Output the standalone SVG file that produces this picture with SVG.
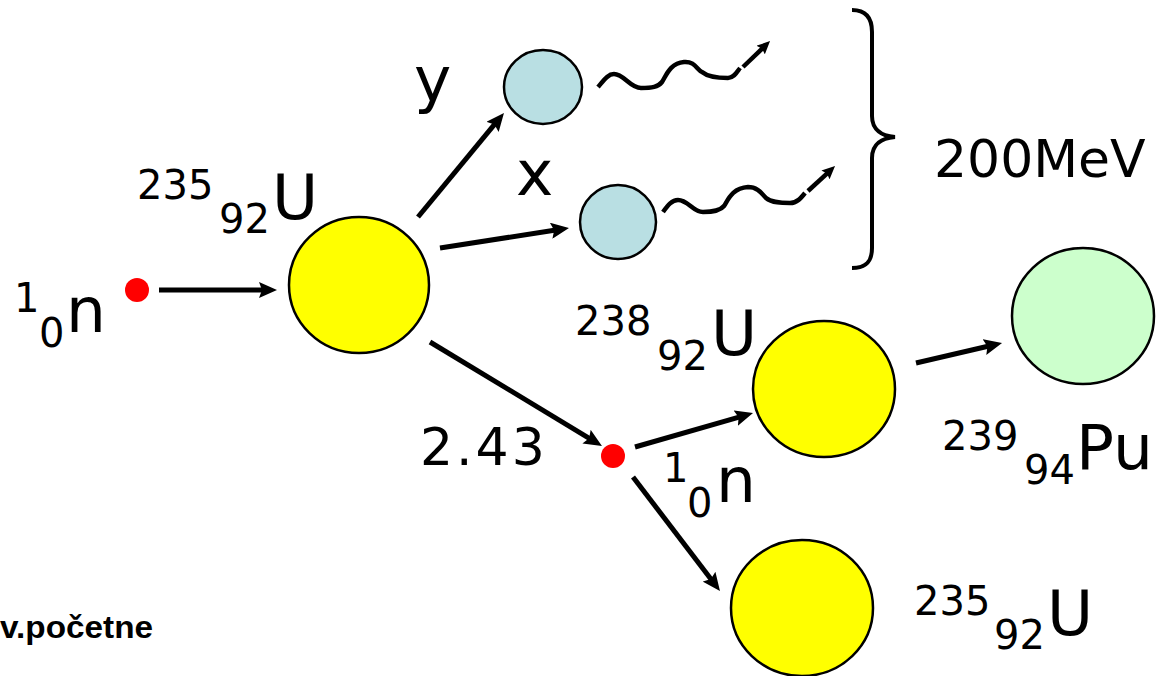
<svg xmlns="http://www.w3.org/2000/svg" width="1167" height="676" viewBox="0 0 1167 676">
<style>
.t{font-family:"DejaVu Sans","Verdana",sans-serif;fill:#000}
.big{font-size:63px}
.sm{font-size:40px}
.mid{font-size:52px}
.nuc{stroke:#000;stroke-width:2.5}
.arr{stroke:#000;stroke-width:5;fill:none;marker-end:url(#ah)}
.wave{stroke:#000;stroke-width:4.5;fill:none}
.warr{stroke:#000;stroke-width:4.5;fill:none;marker-end:url(#ahs)}
</style>
<defs>
<marker id="ah" viewBox="0 0 18 16" refX="8" refY="8" markerWidth="18" markerHeight="16" markerUnits="userSpaceOnUse" orient="auto">
<path d="M0,0 L18,8 L0,16 L3,8 z" fill="#000"/>
</marker>
<marker id="ahs" viewBox="0 0 13 12" refX="6" refY="6" markerWidth="13" markerHeight="12" markerUnits="userSpaceOnUse" orient="auto">
<path d="M0,0 L13,6 L0,12 L2,6 z" fill="#000"/>
</marker>
</defs>
<rect width="1167" height="676" fill="#fff"/>

<g id="connectors">
<line class="arr" x1="159" y1="290" x2="267" y2="290"/>
<line class="arr" x1="418" y1="217" x2="497.6" y2="120.7"/>
<line class="arr" x1="440" y1="248" x2="559.1" y2="229.5"/>
<line class="arr" x1="430" y1="342" x2="593.4" y2="440.8"/>
<line class="arr" x1="635" y1="447" x2="743.4" y2="415.8"/>
<line class="arr" x1="633" y1="477" x2="713.9" y2="583"/>
<line class="arr" x1="916" y1="363" x2="992.3" y2="345.3"/>
<path class="wave" d="M598,87 C604,80 608,74 614,74 C624,74 630,88 641,88 C652,88 658,87 662,82 C666,76 670,63 684,62 C695,61 697,70 702,72 C708,77 720,78 728,78 C734,78 737,72 740,68"/>
<line class="warr" x1="743" y1="67" x2="765" y2="45.9"/>
<path class="wave" d="M663,212 C668,205 672,200 678,200 C688,200 693,212 703,212 C713,212 720,211 724,206 C728,200 732,188 748,187 C758,187 762,194 766,198 C772,203 782,203 790,203 C797,203 801,198 805,193"/>
<line class="warr" x1="808" y1="191" x2="829.9" y2="170.8"/>
<path d="M852,10 C866,10 872,18 872,32 L872,116 C872,130 882,136 895,137 C882,138 872,144 872,158 L872,248 C872,262 866,268 852,268" fill="none" stroke="#000" stroke-width="4"/>
</g>

<g id="neutron1">
<circle cx="137" cy="290" r="12" fill="#ff0000"/>
<text class="t sm" x="14" y="312">1</text>
<text class="t sm" x="39" y="347">0</text>
<text class="t big" x="66" y="332">n</text>
</g>

<g id="u235">
<ellipse class="nuc" cx="359" cy="285" rx="70" ry="68" fill="#ffff00"/>
<text class="t sm" x="137" y="199">235</text>
<text class="t sm" x="219" y="233">92</text>
<text class="t big" x="272" y="219">U</text>
</g>

<g id="fragY">
<ellipse class="nuc" cx="543" cy="87" rx="39" ry="37" fill="#b9dfe3"/>
<text class="t big" x="414" y="101">y</text>
</g>

<g id="fragX">
<ellipse class="nuc" cx="618" cy="222" rx="38" ry="37" fill="#b9dfe3"/>
<text class="t big" x="516" y="195">x</text>
</g>

<g id="energy">
<text class="t mid" x="934" y="177">200MeV</text>
</g>

<g id="neutron2">
<circle cx="613" cy="456" r="12" fill="#ff0000"/>
<text class="t mid" x="420" y="465" letter-spacing="3">2.43</text>
<text class="t sm" x="663" y="482">1</text>
<text class="t sm" x="687" y="517">0</text>
<text class="t big" x="716" y="502">n</text>
</g>

<g id="u238">
<ellipse class="nuc" cx="824" cy="389" rx="71" ry="68" fill="#ffff00"/>
<text class="t sm" x="575" y="335">238</text>
<text class="t sm" x="657" y="370">92</text>
<text class="t big" x="711" y="355">U</text>
</g>

<g id="pu239">
<ellipse class="nuc" cx="1083" cy="316" rx="71" ry="68" fill="#ccffcc"/>
<text class="t sm" x="942" y="450">239</text>
<text class="t sm" x="1024" y="484">94</text>
<text class="t big" x="1076" y="469">Pu</text>
</g>

<g id="u235b">
<ellipse class="nuc" cx="802" cy="608" rx="71" ry="68" fill="#ffff00"/>
<text class="t sm" x="914" y="615">235</text>
<text class="t sm" x="994" y="649">92</text>
<text class="t big" x="1047" y="635">U</text>
</g>

<g id="source">
<text x="0" y="638" font-family="'Liberation Sans',Arial,sans-serif" font-weight="bold" font-size="32" textLength="153" lengthAdjust="spacingAndGlyphs">v.početne</text>
</g>
</svg>
